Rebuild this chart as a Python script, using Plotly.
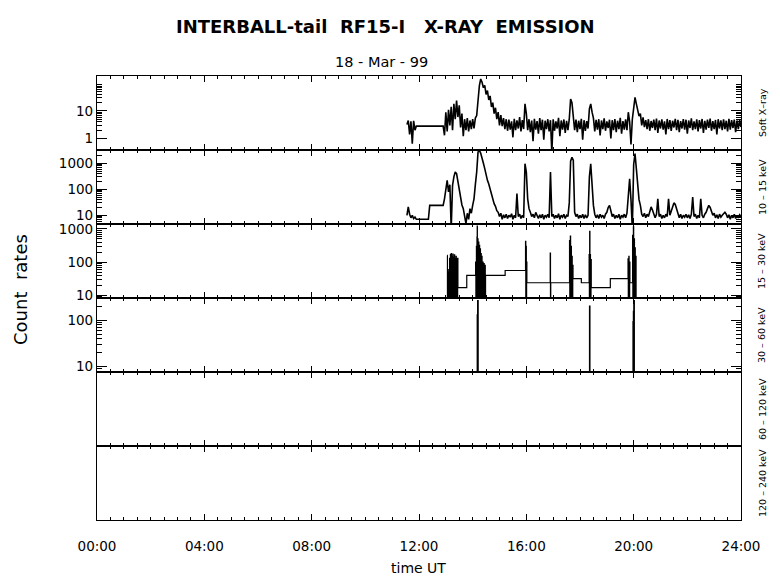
import numpy as np
import plotly.graph_objects as go
from plotly.subplots import make_subplots

# ---- data (time in hours UT, count rates) ----
T0 = 11.55      # first sample of the dense channels
DT = 0.05       # sample spacing, hours

soft_xray = [
    3.2, 4.5, 1.4, 4.2, 0.65, 4.4, 2.0,
    2.8, 2.8, 2.8, 2.8, 2.8, 2.8, 2.8, 2.8, 2.8, 2.8, 2.8, 2.8, 2.8, 2.8, 2.8, 2.8, 2.8, 2.8, 2.8, 2.8, 2.8,
    1.3, 9, 1.8, 11, 3, 14, 2.0, 18, 5, 24, 6, 16, 2.5, 8, 1.2, 5, 2.0, 5.5, 1.8, 4.5, 2.2, 5, 2.3, 5.5,
    6.8, 30, 83, 145, 110, 70, 85, 40, 55, 25, 35, 14, 20, 8, 13, 5, 9, 3, 7, 2.8, 5.5, 2.2, 5,
    1.9, 4.8, 2.1, 4.2, 1.1, 5.2, 2.0, 4.5, 2.3, 6, 1.8, 4.6, 2.2, 18, 8,
    2.0, 5, 1.7, 4.5, 0.8, 5.2, 2.1, 4.3, 1.5, 5.5, 2.0, 4.8, 0.9, 4.4, 2.2, 5, 1.8, 4.6, 0.3,
    5, 1.9, 4.2, 2.3, 5.6, 1.2, 4.5, 2.1, 4.9, 1.6, 4.4, 2.0, 5, 27, 20, 8,
    2.0, 4.8, 1.7, 4.4, 2.2, 5.2, 0.9, 4.6, 1.9, 4.3, 2.3, 12, 18, 9, 5.5,
    1.8, 4.7, 2.1, 5, 1.3, 4.5, 2.2, 5.4, 1.9, 4.2, 2.4, 4.8, 1.0, 4.6, 2.0, 5.1, 1.7, 4.4, 2.2, 5.6,
    1.5, 4.3, 2.1, 4.9, 2.0, 9, 4, 0.6, 5, 14, 31, 18, 11, 6.5, 8, 3, 5.8, 2.6,
    4.6, 2.2, 5.0, 1.9, 4.3, 2.4, 4.8, 2.0, 5.3, 1.6,
    4.5, 2.3, 4.9, 2.1, 4.2, 1.4, 5.1, 2.2, 4.6, 1.9,
    4.4, 2.5, 5.2, 2.0, 4.7, 1.7, 4.3, 2.3, 5.0, 2.1,
    4.8, 1.5, 4.5, 2.4, 5.4, 2.0, 4.2, 2.2, 4.9, 1.8,
    4.6, 2.3, 5.1, 1.6, 4.4, 2.1, 4.8, 2.4, 5.3, 1.9,
    4.3, 2.2, 4.7, 1.4, 5.0, 2.3, 4.5, 2.0, 4.9, 2.2,
    4.4, 1.8, 5.2, 2.1, 4.6, 2.4, 4.8, 1.7, 4.5, 2.2,
    4.7, 2.6,
]

kev_10_15 = [
    10, 21, 11, 8, 10, 7.5, 8.5,
    7, 7, 7, 7, 7, 7, 7, 7, 7, 7,
    24, 24, 24, 24, 24, 24, 24, 24, 24, 24, 24,
    43, 120, 220, 80, 150, 3, 140, 300, 460, 400, 200, 80, 45, 25, 18, 7.4, 4.8, 12, 7, 18, 12, 24,
    43, 150, 460, 2700, 3160, 2400, 1700, 1000, 620, 350, 220, 160, 100, 59, 40, 28, 22, 15, 13, 9, 12,
    7, 10.5, 8, 11, 7.5, 10, 8.5, 11.5, 7, 10, 8, 68, 9, 11, 7.5, 10, 8, 960, 460, 43, 18, 13,
    9, 11, 8, 13, 10, 7.5, 10.5, 8, 11, 7, 10, 8.5, 11, 8, 460, 9, 11, 7.5, 10, 8, 11.5, 7, 10, 8.5,
    11, 7.5, 10, 9, 30, 1200, 1700, 1300, 13, 9, 11, 7.5, 10, 8, 11, 7.5, 10.5, 8, 10,
    300, 960, 140, 24, 11, 8, 10.5, 7.5, 11, 8.5, 10, 7.5, 11, 13, 20, 24, 15,
    9, 11, 7.5, 10, 8, 11, 7, 10, 8.5, 11, 8, 12, 60, 255, 40, 3, 900, 2350, 620, 140, 40, 24, 11, 9, 12,
    8, 11, 9, 14, 21, 16, 10, 8, 11, 43, 9, 11, 7.5, 10, 8, 11, 9, 43, 10, 14,
    22, 30, 26, 16, 10, 8, 11, 7.5, 10, 8.5, 11, 8, 10.5, 7.5, 11, 50, 9, 11, 7.5, 10,
    8, 43, 10, 8, 11, 13, 18, 24, 20, 14, 10, 12, 8, 10.5, 7.5, 11, 8.5, 10, 12, 13,
    11, 8, 10.5, 7, 10, 8, 11, 7.5, 10, 8, 10.5, 9,
]

# 15-30 keV: step-like record (hv), floor value 3 lies below the axis range
kev_15_30_t = [
    13.05, 13.06, 13.08, 13.09, 13.11, 13.12, 13.14, 13.15, 13.17, 13.18, 13.20, 13.21,
    13.23, 13.24, 13.26, 13.27, 13.29, 13.30, 13.32, 13.33, 13.35, 13.36, 13.38, 13.39,
    13.41, 13.42, 13.44, 13.45, 13.78,
    14.11, 14.12, 14.14, 14.15, 14.16, 14.165, 14.17, 14.175, 14.19, 14.20, 14.22, 14.23,
    14.25, 14.26, 14.28, 14.29, 14.31, 14.32, 14.34, 14.35, 14.38, 14.39, 14.42, 14.43,
    14.46, 14.47, 14.48, 15.21, 15.97, 15.98, 15.99, 16.00, 16.01, 16.02,
    16.89, 16.90, 16.91, 17.61, 17.62, 17.64, 17.65, 17.67, 17.68, 17.70, 17.71, 17.73,
    17.74, 18.05, 18.34, 18.35, 18.36, 18.37, 18.38, 18.39, 18.41, 18.42, 19.13, 19.79,
    19.80, 19.82, 19.83, 19.85, 19.86, 19.96, 19.97, 19.99, 20.00, 20.02, 20.03, 20.05,
    20.06, 20.08, 20.09,
]
kev_15_30_v = [
    160, 3, 50, 3, 60, 3, 130, 3, 170, 3, 180, 3,
    150, 3, 175, 3, 140, 3, 165, 3, 130, 3, 150, 3,
    125, 3, 130, 17, 40,
    100, 3, 300, 3, 570, 3, 1230, 3, 500, 3, 400, 3,
    320, 3, 250, 3, 180, 3, 150, 3, 100, 3, 90, 3,
    80, 3, 40, 56, 425, 3, 300, 3, 100, 24,
    187, 3, 24, 450, 3, 610, 3, 300, 3, 150, 3, 80,
    32, 24, 170, 3, 850, 3, 170, 3, 120, 17, 32, 125,
    3, 150, 3, 100, 24, 640, 3, 1150, 3, 500, 3, 270,
    3, 150, 3,
]

kev_30_60_t = [14.0, 14.175, 14.19, 14.20, 18.36, 18.365, 19.98, 19.995, 20.01, 20.02]
kev_30_60_v = [1, 130, 265, 1, 200, 1, 93, 155, 265, 1]

channel_labels = ["Soft\u00a0X\u2013ray", "10 \u2013 15 keV", "15 \u2013 30 keV",
                  "30 \u2013 60 keV", "60 \u2013 120 keV", "120 \u2013 240 keV"]
hour_ticks = [0, 4, 8, 12, 16, 20, 24]
hour_text = ["00:00", "04:00", "08:00", "12:00", "16:00", "20:00", "24:00"]

t_dense = T0 + DT * np.arange(len(soft_xray))
t_dense2 = T0 + DT * np.arange(len(kev_10_15))

FONT = "DejaVu Sans, sans-serif"
OFF = 8                      # page body margin of the html page
W, H = 780 - OFF, 579 - OFF
L, TOP = 97 - OFF, 76 - OFF
R = W - (741 - OFF)
BOT = H - (520 - OFF)

def px_x(x):
    return (x - OFF - L) / (W - L - R)

def px_y(y):
    return (H - BOT - (y - OFF)) / (H - TOP - BOT)

fig = make_subplots(rows=6, cols=1, shared_xaxes=True, vertical_spacing=0)

line = dict(color="black", width=1.6)
fig.add_trace(go.Scatter(x=t_dense, y=soft_xray, mode="lines", line=line), row=1, col=1)
fig.add_trace(go.Scatter(x=t_dense2, y=kev_10_15, mode="lines", line=line), row=2, col=1)
fig.add_trace(go.Scatter(x=kev_15_30_t, y=kev_15_30_v, mode="lines",
                         line=dict(color="black", width=1.2, shape="hv")), row=3, col=1)
fig.add_trace(go.Scatter(x=kev_30_60_t, y=kev_30_60_v, mode="lines",
                         line=dict(color="black", width=1.5, shape="hv")), row=4, col=1)
# the two top energy channels recorded nothing; empty traces keep their frames
for row in (5, 6):
    fig.add_trace(go.Scatter(x=[0, 24], y=[0.5, 0.5], mode="none", hoverinfo="skip"), row=row, col=1)

def minors(decades):
    return [m * 10 ** d for d in decades for m in range(2, 10)]

y_setup = [
    dict(range=[-0.42, 2.27], tickvals=[1, 10], minor_vals=minors([0, 1])),
    dict(range=[0.665, 3.51], tickvals=[10, 100, 1000], minor_vals=minors([0, 1, 2, 3])),
    dict(range=[0.92, 3.15], tickvals=[10, 100, 1000], minor_vals=minors([0, 1, 2, 3])),
    dict(range=[0.885, 2.48], tickvals=[10, 100], minor_vals=minors([0, 1, 2])),
]

for i in range(6):
    row = i + 1
    fig.update_xaxes(
        row=row, col=1, range=[0, 24], showline=True, linecolor="black", linewidth=1.2,
        mirror="ticks", ticks="inside", ticklen=6, tickwidth=1, tickcolor="black",
        tickvals=hour_ticks, ticktext=hour_text, showgrid=False, zeroline=False,
        showticklabels=(row == 6),
        minor=dict(dtick=0.5, ticks="inside", ticklen=3, tickcolor="black", tickwidth=1, showgrid=False),
        tickfont=dict(family=FONT, size=13.5, color="black"),
    )
    if i < 4:
        s = y_setup[i]
        fig.update_yaxes(
            row=row, col=1, type="log", range=s["range"], tickvals=s["tickvals"],
            ticktext=[str(v) for v in s["tickvals"]],
            showline=True, linecolor="black", linewidth=1.2, mirror="ticks",
            ticks="inside", ticklen=10, tickwidth=1, tickcolor="black",
            showgrid=False, zeroline=False,
            minor=dict(tickvals=s["minor_vals"], ticks="inside", ticklen=5,
                       tickcolor="black", tickwidth=1, showgrid=False),
            tickfont=dict(family=FONT, size=13.5, color="black"),
        )
    else:
        fig.update_yaxes(
            row=row, col=1, range=[0, 1], showline=True, linecolor="black", linewidth=1.2,
            mirror=True, ticks="", showticklabels=False, showgrid=False, zeroline=False,
        )

fig.update_xaxes(row=6, col=1, ticklabelstandoff=14)

annotations = [
    dict(text="INTERBALL-tail\u00a0\u00a0RF15-I\u00a0\u00a0\u00a0X-RAY\u00a0\u00a0EMISSION",
         x=px_x(385), y=px_y(27), font=dict(family=FONT, size=18, color="black"), bold=True),
    dict(text="18 - Mar - 99", x=px_x(381), y=px_y(62), font=dict(family=FONT, size=14.5, color="black")),
    dict(text="time UT", x=px_x(418), y=px_y(568), font=dict(family=FONT, size=14, color="black")),
    dict(text="Count\u00a0\u00a0rates", x=px_x(20), y=px_y(290), textangle=-90,
         font=dict(family=FONT, size=18, color="black")),
]
panel_centres = [113, 187, 261, 335, 409, 483]
for lab, yc in zip(channel_labels, panel_centres):
    annotations.append(dict(text=lab, x=px_x(762), y=px_y(yc), textangle=-90,
                            font=dict(family=FONT, size=9.5, color="black")))

anns = []
for a in annotations:
    bold = a.pop("bold", False)
    if bold:
        a["text"] = "<b>" + a["text"] + "</b>"
    a.update(xref="paper", yref="paper", showarrow=False, xanchor="center", yanchor="middle")
    anns.append(a)

fig.update_layout(
    width=W, height=H, showlegend=False,
    margin=dict(l=L, r=R, t=TOP, b=BOT),
    paper_bgcolor="white", plot_bgcolor="white",
    annotations=anns,
)

fig.write_html("out.html")
